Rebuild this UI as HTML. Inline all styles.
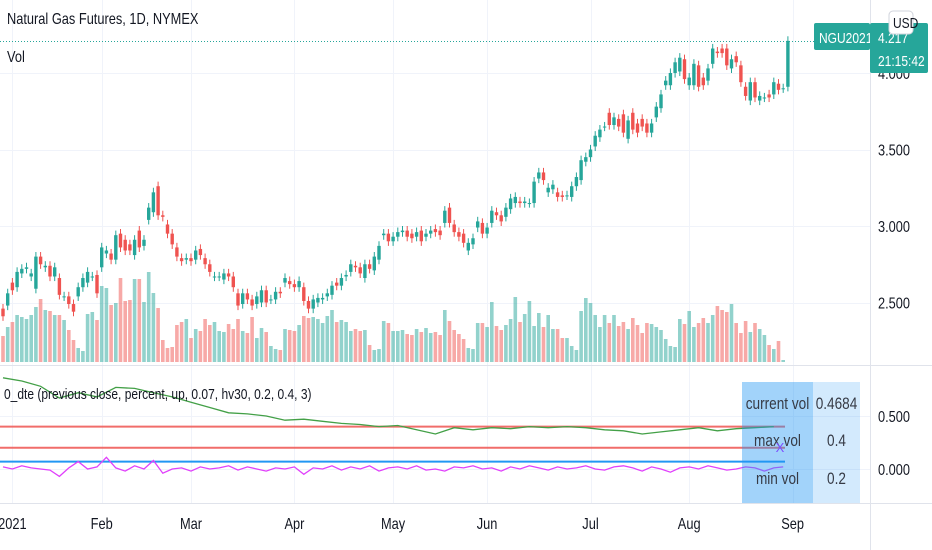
<!DOCTYPE html>
<html><head><meta charset="utf-8"><style>
html,body{margin:0;padding:0;background:#fff;}
svg{display:block;font-family:"Liberation Sans",sans-serif;}
</style></head><body>
<svg id="chart" width="932" height="550" viewBox="0 0 932 550" xmlns="http://www.w3.org/2000/svg">
<rect x="0" y="0" width="932" height="550" fill="#ffffff"/>
<g id="grid"></g>
<g id="vol"></g>
<g id="candles"></g>
<g id="ind"></g>
<g id="axes"></g>
<text class="cond" x="7" y="24" font-size="16" fill="#131722">Natural Gas Futures, 1D, NYMEX</text>
<text class="cond" x="7" y="62" font-size="16" fill="#131722">Vol</text>
<text class="cond" x="4" y="399" font-size="15" fill="#131722">0_dte (previous close, percent, up, 0.07, hv30, 0.2, 0.4, 3)</text>
<rect x="814" y="23" width="56" height="27" rx="2" fill="#26a69a"/>
<text class="cond" x="819" y="43" font-size="15" fill="#fff">NGU2021</text>
<rect x="870" y="23" width="58" height="50" rx="2" fill="#26a69a"/>
<text class="cond" x="878" y="43" font-size="15" fill="#fff">4.217</text>
<text class="cond" x="878" y="66" font-size="15" fill="#fff">21:15:42</text>
<rect x="889" y="11" width="24" height="23" rx="4" fill="#fff" stroke="#d1d4dc"/>
<text class="cond" x="893" y="28" font-size="15" fill="#131722">USD</text>
</svg>
<script>
// ---------- data ----------
const opens = [2.46,2.48,2.63,2.60,2.69,2.72,2.67,2.59,2.80,2.73,2.74,2.67,2.66,2.54,2.54,2.49,2.54,2.60,2.63,2.67,2.68,2.73,2.82,2.82,2.78,2.95,2.91,2.88,2.81,2.97,2.87,3.04,3.09,3.26,3.07,3.01,2.95,2.86,2.79,2.78,2.79,2.78,2.85,2.79,2.75,2.67,2.67,2.65,2.69,2.67,2.56,2.49,2.56,2.52,2.49,
2.50,2.58,2.52,2.52,2.57,2.63,2.64,2.62,2.60,2.60,2.51,2.46,2.50,2.52,2.54,2.55,2.63,2.61,2.67,2.70,2.74,2.73,2.66,2.75,2.71,2.78,2.94,2.95,2.90,2.93,2.96,2.97,2.95,2.93,2.97,2.93,2.95,2.98,2.97,3.02,3.12,3.01,2.96,2.95,2.84,2.88,2.99,3.02,2.95,3.02,3.09,3.07,3.06,
3.11,3.15,3.16,3.15,3.15,3.15,3.31,3.35,3.22,3.24,3.22,3.20,3.20,3.19,3.26,3.30,3.42,3.45,3.52,3.58,3.65,3.74,3.66,3.70,3.73,3.57,3.74,3.67,3.70,3.67,3.61,3.71,3.77,3.92,3.92,4.00,4.01,4.09,3.92,3.92,4.05,3.97,3.95,4.06,4.14,4.16,4.16,4.03,4.11,4.05,3.91,3.82,3.94,3.82,3.84,3.86,3.86,3.93,3.90,3.91];
const closes = [2.41,2.56,2.58,2.70,2.72,2.73,2.69,2.80,2.75,2.74,2.67,2.73,2.55,2.54,2.49,2.44,2.60,2.66,2.70,2.67,2.56,2.86,2.84,2.78,2.94,2.86,2.84,2.84,2.91,2.86,2.91,3.12,3.22,3.07,3.06,2.95,2.88,2.80,2.77,2.79,2.77,2.84,2.81,2.75,2.70,2.67,2.67,2.69,2.67,2.60,2.48,2.56,2.52,2.48,2.54,
2.58,2.50,2.52,2.57,2.56,2.66,2.62,2.60,2.64,2.51,2.46,2.52,2.53,2.53,2.56,2.61,2.61,2.66,2.68,2.75,2.73,2.69,2.75,2.72,2.80,2.87,2.95,2.90,2.93,2.96,2.97,2.93,2.92,2.96,2.90,2.95,2.97,2.96,2.94,3.10,3.02,2.96,2.93,2.89,2.89,2.92,3.03,2.95,2.99,3.10,3.07,3.03,3.12,
3.18,3.19,3.15,3.16,3.15,3.29,3.35,3.30,3.25,3.27,3.19,3.19,3.20,3.26,3.32,3.43,3.45,3.50,3.59,3.63,3.65,3.66,3.71,3.65,3.61,3.69,3.63,3.61,3.65,3.61,3.67,3.78,3.86,3.95,4.00,4.07,4.10,3.96,3.97,4.06,3.91,3.92,4.03,4.16,4.13,4.13,4.05,4.09,4.07,3.94,3.85,3.94,3.84,3.85,3.84,3.84,3.94,3.89,3.90,4.21];
const volumes = [26,35,40,47,45,43,47,55,63,52,51,47,47,42,32,22,14,11,48,50,42,76,74,57,59,84,61,62,83,83,60,90,69,54,22,14,15,37,40,43,24,33,31,43,37,40,31,30,38,33,43,31,29,45,24,34,30,16,13,12,33,32,31,37,46,44,45,43,39,46,52,40,42,40,31,33,31,32,17,12,13,41,39,31,31,32,28,27,33,30,34,29,30,27,52,41,32,28,23,
14,13,39,39,35,60,36,32,37,43,65,40,48,61,36,49,35,47,33,33,24,24,16,12,51,64,59,47,35,47,39,47,36,40,33,44,37,29,39,38,35,32,23,16,15,43,38,51,35,39,44,39,47,56,52,50,58,39,29,41,30,39,33,27,17,13,21,2];
const hvValues = [0.86,0.83,0.78,0.67,0.72,0.68,0.77,0.76,0.72,0.68,0.63,0.58,0.53,0.52,0.50,0.46,0.47,0.45,0.43,0.42,0.40,0.41,0.37,0.33,0.39,0.37,0.39,0.38,0.40,0.39,0.40,0.39,0.37,0.36,0.33,0.35,0.37,0.39,0.36,0.38,0.39,0.40];
const devValues = [0.02,0.00,0.03,0.01,0.00,-0.01,-0.07,0.01,0.07,0.00,0.02,0.11,0.01,-0.02,0.03,0.00,0.08,-0.04,0.00,0.01,-0.02,0.02,0.00,0.01,0.03,-0.01,0.02,0.00,-0.02,0.01,0.00,0.02,-0.05,0.01,0.00,0.03,-0.01,0.02,0.00,0.03,-0.02,0.01,0.02,0.00,0.03,-0.01,0.00,-0.02,0.02,0.01,0.03,0.00,0.01,-0.02,0.02,0.00,0.03,0.01,-0.01,0.02,0.00,0.01,0.03,0.00,-0.01,0.02,0.03,0.01,-0.02,0.02,0.00,-0.03,0.01,0.02,0.00,0.03,0.01,-0.01,0.00,0.02,0.01,-0.02,0.01,0.02];
const levelValues = [0.4,0.2,0.07];
const priceTicks = [4.0,3.5,3.0,2.5];
const indTicks = [0.5,0.0];
const monthLabels = ["2021","Feb","Mar","Apr","May","Jun","Jul","Aug","Sep"];
const monthBars = [2,21,40,62,83,103,125,146,168];
// ---------- scales ----------
const NS="http://www.w3.org/2000/svg";
const X0=3, STEP=4.7;
function xb(i){return X0+i*STEP;}
function yp(p){return 73+(4-p)*153;}
function yv(v){return 469-v*106;}
function yvol(v){return 362-v;}
function mk(tag,attrs,parent){const e=document.createElementNS(NS,tag);for(const k in attrs)e.setAttribute(k,attrs[k]);parent.appendChild(e);return e;}
const G=document.getElementById('grid'),V=document.getElementById('vol'),C=document.getElementById('candles'),I=document.getElementById('ind'),A=document.getElementById('axes');
const UP='#26a69a',DN='#ef5350';
monthBars.forEach((b,k)=>{const x=Math.round(xb(b))+0.5;
 const l=mk('line',{x1:x,x2:x,y1:0,y2:503,stroke:'#f0f3fa','stroke-width':1},G);
 
 });
priceTicks.forEach(p=>{const y=Math.round(yp(p))+0.5;
 const l=mk('line',{x1:0,x2:870,y1:y,y2:y,stroke:'#f0f3fa'},G);
 
 });
indTicks.forEach(v=>{const y=Math.round(yv(v))+0.5;
 const l=mk('line',{x1:0,x2:870,y1:y,y2:y,stroke:'#f0f3fa'},G);
 
 });
volumes.forEach((v,i)=>{const up=i<closes.length?closes[i]>=opens[i]:true;
 const r=mk('rect',{x:xb(i)-1.8,y:yvol(v),width:3.6,height:v,fill:up?'rgba(38,166,154,0.5)':'rgba(239,83,80,0.5)'},V);
 
 });
closes.forEach((c,i)=>{const o=opens[i];const up=c>=o;const col=up?UP:DN;const x=xb(i);
 const hi=Math.max(o,c)+0.03,lo=Math.min(o,c)-0.03;
 const w=mk('line',{x1:x,x2:x,y1:yp(hi),y2:yp(lo),stroke:col,'stroke-width':1},C);
 
 
 const t=yp(Math.max(o,c)),b=yp(Math.min(o,c));
 const r=mk('rect',{x:x-1.7,y:t,width:3.4,height:Math.max(1,b-t),fill:col},C);
 
 });
const lastY=Math.round(yp(closes[closes.length-1]))+0.5;
const dl=mk('line',{x1:0,x2:870,y1:lastY,y2:lastY,stroke:UP,'stroke-dasharray':'1,2'},C);


[[0,365.5,932,365.5],[0,503.5,932,503.5],[870.5,0,870.5,550]].forEach(s=>{
 const l=mk('line',{x1:s[0],y1:s[1],x2:s[2],y2:s[3],stroke:'#e0e3eb'},A);
 
 });
const lvCol=['#ef5350','#ef5350','#2196f3'];
levelValues.forEach((v,k)=>{const y=yv(v);
 const l=mk('line',{x1:0,x2:785,y1:y,y2:y,stroke:lvCol[k],'stroke-width':2,'stroke-opacity':k<2?0.85:1},I);
 
 });
let d='';hvValues.forEach((v,k)=>{d+=(k?'L':'M')+xb(k*4).toFixed(1)+','+yv(v).toFixed(1);});
const hv=mk('path',{d:d,fill:'none',stroke:'#43a047','stroke-width':1.3},I);


d='';devValues.forEach((v,k)=>{d+=(k?'L':'M')+xb(k*2).toFixed(1)+','+yv(v).toFixed(1);});
const dv=mk('path',{d:d,fill:'none',stroke:'#e040fb','stroke-width':1.3},I);


const t1=mk('rect',{x:742,y:382,width:71,height:121,fill:'rgba(33,150,243,0.42)'},I);


const t2=mk('rect',{x:813,y:382,width:47,height:121,fill:'rgba(33,150,243,0.2)'},I);


const rows=[['current vol','0.4684',403],['max vol','0.4',440],['min vol','0.2',478]];
rows.forEach(r=>{
 const a=mk('text',{x:777.5,y:r[2]+6,'font-size':17,fill:'#363a45','text-anchor':'middle','class':'cond'},I);a.textContent=r[0];
 
 
 const b=mk('text',{x:836.5,y:r[2]+6,'font-size':17,fill:'#363a45','text-anchor':'middle','class':'cond'},I);b.textContent=r[1];
 
 });
const xm=mk('text',{x:780,y:452,'font-size':13,fill:'#7c4dff','text-anchor':'middle'},I);xm.textContent='X';


priceTicks.forEach(p=>{const t=mk('text',{x:878,y:yp(p)+6,'font-size':16,fill:'#131722','class':'cond'},A);t.textContent=p.toFixed(3);
 
 });
indTicks.forEach(v=>{const t=mk('text',{x:878,y:yv(v)+6,'font-size':16,fill:'#131722','class':'cond'},A);t.textContent=v.toFixed(3);
 
 });
monthLabels.forEach((m,k)=>{const t=mk('text',{x:xb(monthBars[k]),y:529,'font-size':16,fill:'#131722','text-anchor':'middle','class':'cond'},A);t.textContent=m;
 
 });
// condense text like the reference's narrow font
document.querySelectorAll('text.cond').forEach(t=>{const w=t.getComputedTextLength();t.setAttribute('textLength',(w*0.8).toFixed(1));t.setAttribute('lengthAdjust','spacingAndGlyphs');});
</script>
</body></html>
